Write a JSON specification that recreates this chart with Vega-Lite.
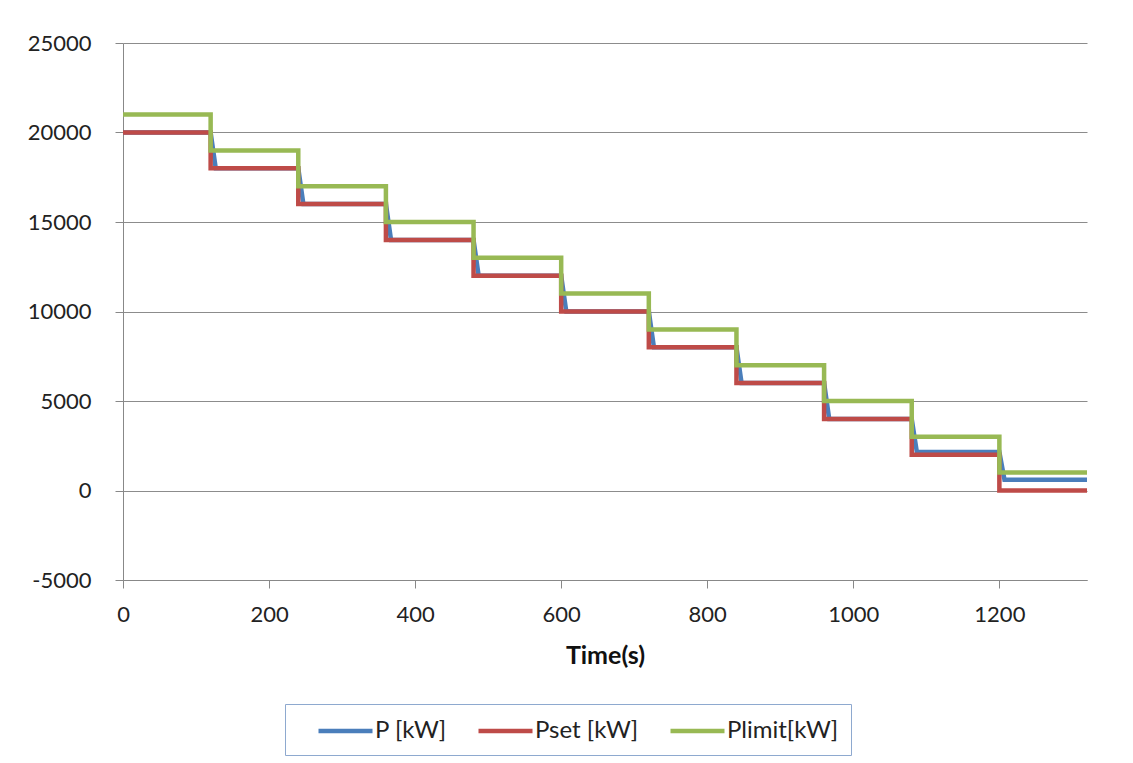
{
  "$schema": "https://vega.github.io/schema/vega-lite/v6.json",
  "autosize": "none",
  "width": 964,
  "height": 537,
  "padding": {"left": 123, "top": 43, "right": 46, "bottom": 183},
  "background": "white",
  "config": {
    "font": "Lato",
    "view": {"stroke": null},
    "axis": {"labelFont": "Lato", "titleFont": "Lato", "labelColor": "#222222", "titleColor": "#111111"}
  },
  "datasets": {
    "p": [
      {"t": 0, "v": 20000, "s": "P [kW]"},
      {"t": 120, "v": 20000, "s": "P [kW]"},
      {"t": 127, "v": 18000, "s": "P [kW]"},
      {"t": 240, "v": 18000, "s": "P [kW]"},
      {"t": 247, "v": 16000, "s": "P [kW]"},
      {"t": 360, "v": 16000, "s": "P [kW]"},
      {"t": 367, "v": 14000, "s": "P [kW]"},
      {"t": 480, "v": 14000, "s": "P [kW]"},
      {"t": 487, "v": 12000, "s": "P [kW]"},
      {"t": 600, "v": 12000, "s": "P [kW]"},
      {"t": 607, "v": 10000, "s": "P [kW]"},
      {"t": 720, "v": 10000, "s": "P [kW]"},
      {"t": 727, "v": 8000, "s": "P [kW]"},
      {"t": 840, "v": 8000, "s": "P [kW]"},
      {"t": 847, "v": 6000, "s": "P [kW]"},
      {"t": 960, "v": 6000, "s": "P [kW]"},
      {"t": 967, "v": 4000, "s": "P [kW]"},
      {"t": 1080, "v": 4000, "s": "P [kW]"},
      {"t": 1087, "v": 2150, "s": "P [kW]"},
      {"t": 1200, "v": 2150, "s": "P [kW]"},
      {"t": 1207, "v": 600, "s": "P [kW]"},
      {"t": 1320, "v": 600, "s": "P [kW]"}
    ],
    "steps": [
      {"t": 0, "v": 20000, "s": "Pset [kW]"},
      {"t": 120, "v": 18000, "s": "Pset [kW]"},
      {"t": 240, "v": 16000, "s": "Pset [kW]"},
      {"t": 360, "v": 14000, "s": "Pset [kW]"},
      {"t": 480, "v": 12000, "s": "Pset [kW]"},
      {"t": 600, "v": 10000, "s": "Pset [kW]"},
      {"t": 720, "v": 8000, "s": "Pset [kW]"},
      {"t": 840, "v": 6000, "s": "Pset [kW]"},
      {"t": 960, "v": 4000, "s": "Pset [kW]"},
      {"t": 1080, "v": 2000, "s": "Pset [kW]"},
      {"t": 1200, "v": 0, "s": "Pset [kW]"},
      {"t": 1320, "v": 0, "s": "Pset [kW]"},
      {"t": 0, "v": 21000, "s": "Plimit[kW]"},
      {"t": 120, "v": 19000, "s": "Plimit[kW]"},
      {"t": 240, "v": 17000, "s": "Plimit[kW]"},
      {"t": 360, "v": 15000, "s": "Plimit[kW]"},
      {"t": 480, "v": 13000, "s": "Plimit[kW]"},
      {"t": 600, "v": 11000, "s": "Plimit[kW]"},
      {"t": 720, "v": 9000, "s": "Plimit[kW]"},
      {"t": 840, "v": 7000, "s": "Plimit[kW]"},
      {"t": 960, "v": 5000, "s": "Plimit[kW]"},
      {"t": 1080, "v": 3000, "s": "Plimit[kW]"},
      {"t": 1200, "v": 1000, "s": "Plimit[kW]"},
      {"t": 1320, "v": 1000, "s": "Plimit[kW]"}
    ]
  },
  "encoding": {
    "x": {
      "field": "t", "type": "quantitative",
      "scale": {"domain": [0, 1320], "nice": false, "zero": false},
      "axis": {
        "title": "Time(s)", "values": [0, 200, 400, 600, 800, 1000, 1200],
        "labelExpr": "'' + datum.value", "labelFlush": false,
        "grid": false, "domainColor": "#888888", "tickColor": "#888888",
        "tickSize": 8, "labelFontSize": 22, "labelPadding": 16,
        "titleFontSize": 25, "titleFontWeight": "bold", "titlePadding": 18
      }
    },
    "y": {
      "field": "v", "type": "quantitative",
      "scale": {"domain": [-5000, 25000], "nice": false},
      "axis": {
        "title": null, "values": [-5000, 0, 5000, 10000, 15000, 20000, 25000],
        "labelExpr": "'' + datum.value",
        "grid": true, "gridColor": "#8c8c8c", "domainColor": "#888888", "tickColor": "#888888",
        "tickSize": 8, "labelFontSize": 22, "labelPadding": 24
      }
    },
    "color": {
      "field": "s", "type": "nominal",
      "scale": {"domain": ["P [kW]", "Pset [kW]", "Plimit[kW]"], "range": ["#4A7EBB", "#BE4B48", "#98B954"]},
      "legend": {
        "title": null, "orient": "none", "direction": "horizontal",
        "legendX": 162, "legendY": 661,
        "symbolType": "M0.52,0H4.84", "symbolSize": 625, "symbolStrokeWidth": 4.5,
        "labelFontSize": 24, "labelFont": "Lato", "labelColor": "#222222", "labelOffset": 48,
        "columnPadding": 10, "padding": 12,
        "strokeColor": "#8EA9CF", "fillColor": "white",
        "labelLimit": 300
      }
    }
  },
  "layer": [
    {
      "data": {"name": "p"},
      "mark": {"type": "line", "strokeWidth": 4.5, "interpolate": "linear"}
    },
    {
      "data": {"name": "steps"},
      "mark": {"type": "line", "strokeWidth": 4.5, "interpolate": "step-after"}
    }
  ]
}
